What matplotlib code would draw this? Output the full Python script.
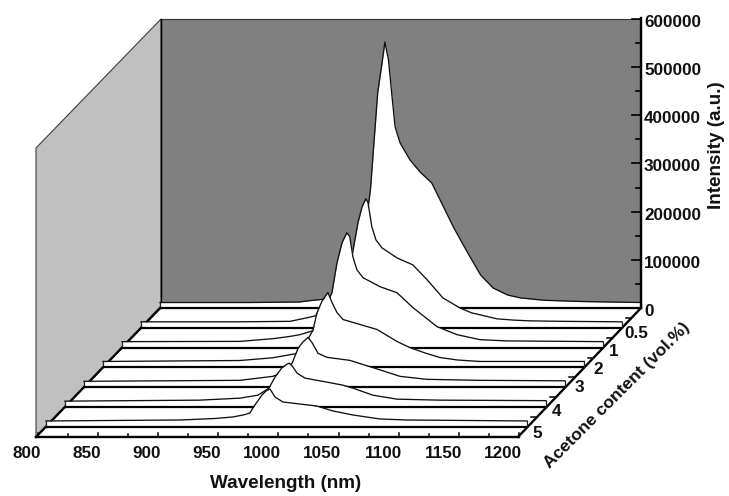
import matplotlib
matplotlib.use('Agg')
import matplotlib.pyplot as plt
from matplotlib.patches import Polygon
from matplotlib.transforms import Affine2D

plt.rcParams['font.family'] = ['Liberation Sans', 'DejaVu Sans']
plt.rcParams['font.weight'] = 'bold'

acetone_labels = ['0', '0.5', '1', '2', '3', '4', '5']

wl_0 = [800, 875, 916, 922, 935, 944, 950, 960, 970, 975, 981, 985, 987, 990, 993, 995.5, 999.7, 1008, 1016.4, 1026,
        1033, 1044, 1056, 1066.6, 1077, 1089, 1100, 1120, 1150, 1200]
int_0 = [11400, 11400, 12500, 14500, 18000, 24000, 33200, 68500, 151500, 245000, 446000, 515000, 552000, 515000,
         438000, 376000, 342500, 307000, 282000, 259500, 224000, 168000, 114000, 68500, 41500, 27000, 20800, 16000,
         13500, 11400]

wl_05 = [800, 882, 924, 938, 945, 961, 976, 980.4, 983.8, 987, 988.8, 992, 995.4, 1000.4, 1013, 1026, 1038, 1051,
         1065, 1075, 1082, 1096, 1110, 1123, 1150, 1200]
int_05 = [12500, 12500, 13500, 20800, 25000, 68500, 155700, 218000, 251000, 268000, 259500, 209500, 182500, 166000,
          145000, 130800, 99600, 62300, 41500, 31000, 27000, 18700, 16000, 14500, 13500, 12500]

wl_1 = [800, 898, 925.6, 940, 948, 959, 974.6, 978.8, 983, 987, 989.4, 992, 995.3, 1000.4, 1014.5, 1028.7, 1042, 1062,
        1078.6, 1097.7, 1120, 1200]
int_1 = [12500, 13000, 18700, 23500, 27000, 35300, 114000, 176500, 218000, 238700, 230400, 189000, 162000, 145300,
         126600, 114000, 83000, 43600, 27000, 16600, 14000, 12500]

wl_2 = [800, 914, 941, 961, 968, 974.6, 978, 982, 987, 990.4, 994.6, 999.6, 1027.9, 1044.5, 1055, 1068, 1080, 1095,
        1113.5, 1200]
int_2 = [12500, 14500, 20100, 29000, 47700, 77400, 114000, 137000, 155700, 135000, 114000, 99600, 78900, 54000,
         41500, 30000, 20800, 15500, 12500, 12500]

wl_3 = [800, 929.7, 957, 966, 973, 978, 982, 986.3, 989.6, 994.6, 1002, 1021, 1039.5, 1062.8, 1085, 1129, 1200]
int_3 = [12500, 14500, 22800, 31000, 49800, 81000, 94000, 103800, 93000, 70600, 62300, 56000, 41500, 22800, 16600,
         14500, 13500]

wl_4 = [800, 912, 945.5, 960.5, 969.6, 974.6, 980.5, 983.8, 986.3, 988.8, 993, 999.6, 1018, 1031, 1039.5, 1056, 1076,
        1112, 1200]
int_4 = [12500, 14500, 18700, 24900, 39400, 62300, 82000, 88000, 91300, 86000, 70600, 60200, 51900, 45700, 39400,
         24900, 16600, 14500, 13500]

wl_5 = [800, 911.4, 940, 955.5, 965, 969.6, 972, 979.6, 983, 986.3, 990.4, 997, 1011, 1025, 1038.7, 1055.3, 1077.7,
        1100, 1200]
int_5 = [12500, 14500, 17500, 20800, 25500, 29000, 39400, 66400, 74700, 78900, 62300, 51900, 47700, 43600, 33200,
         24900, 16600, 14500, 12500]

wavelengths = [wl_0, wl_05, wl_1, wl_2, wl_3, wl_4, wl_5]
intensities = [int_0, int_05, int_1, int_2, int_3, int_4, int_5]

wl_ticks = [800, 850, 900, 950, 1000, 1050, 1100, 1150, 1200]
int_ticks = [0, 100000, 200000, 300000, 400000, 500000, 600000]

# everything is placed in pixels of the 729x496 picture
fig = plt.figure(figsize=(7.29, 4.96), dpi=100)
ax = fig.add_axes([0, 0, 1, 1])
ax.set_xlim(0, 729)
ax.set_ylim(496, 0)
ax.axis('off')

BACK_X, BACK_Y = 160, 308
STEP_X, STEP_Y = -19, 19.83
PX_NM = 1.2025
PX_INT = 48.17 / 100000
TOP_Y = BACK_Y - 600000 * PX_INT
WIDTH = 400 * PX_NM


def series_trans(i):
    x0 = BACK_X + STEP_X * i
    y0 = BACK_Y + STEP_Y * i
    return Affine2D().translate(-800, 0).scale(PX_NM, -PX_INT).translate(x0, y0) + ax.transData


# walls
ax.add_patch(Polygon([(36, TOP_Y + 129), (161, TOP_Y), (161, BACK_Y), (36, 437)], fc='#c0c0c0', ec='#404040', lw=0.8))
ax.add_patch(Polygon([(161, TOP_Y), (BACK_X + WIDTH, TOP_Y), (BACK_X + WIDTH, BACK_Y), (161, BACK_Y)],
                     fc='#808080', ec='#303030', lw=0.8))
ax.plot([161, 161], [TOP_Y, BACK_Y], color='black', lw=1.0)

# floor outline
ax.plot([36, BACK_X], [437, BACK_Y], color='black', lw=1.7, solid_capstyle='projecting')
ax.plot([518, BACK_X + WIDTH], [437, BACK_Y], color='black', lw=1.7)

# spectra, from the back to the front
for i in range(len(wavelengths)):
    trans = series_trans(i)
    wl = wavelengths[i]
    inten = intensities[i]
    z = 3 + i
    ax.fill_between(wl, 0, inten, color='white', lw=0, transform=trans, zorder=z)
    ax.plot(wl, inten, color='#101010', lw=0.95, transform=trans, zorder=z)
    ax.plot([800, 800], [0, inten[0]], color='#202020', lw=0.9, transform=trans, zorder=z)
    ax.plot([1200, 1200], [0, inten[-1]], color='#202020', lw=0.9, transform=trans, zorder=z)
    ax.plot([800, 1200], [0, 0], color='black', lw=1.6, solid_capstyle='butt', transform=trans, zorder=z)

ax.plot([36, 519], [437, 437], color='black', lw=1.7, zorder=12)

# right intensity axis
right_x = BACK_X + WIDTH
ax.plot([right_x, right_x], [TOP_Y - 1, BACK_Y], color='black', lw=1.7, zorder=12)
for v in int_ticks:
    y = BACK_Y - v * PX_INT
    if v > 0:
        ax.plot([right_x - 9, right_x], [y, y], color='black', lw=1.2)
        ax.text(right_x + 3, y + 3.5, str(v), fontsize=12.3, ha='left', va='center', color='#111111')
    if v < 600000:
        ym = BACK_Y - (v + 50000) * PX_INT
        ax.plot([right_x - 5, right_x], [ym, ym], color='black', lw=1.2)

# wavelength ticks
for k, w in enumerate(wl_ticks):
    x = 38 + (w - 800) * PX_NM
    ax.plot([x, x], [437, 433], color='black', lw=1.1, zorder=12)
    ax.text(x + 3, 453, str(w), fontsize=12.3, ha='right', va='center', color='#111111')
    if w < 1200:
        ax.plot([x + 30, x + 30], [437, 434], color='black', lw=1.1, zorder=12)

# acetone ticks and labels
label_x = [649, 636, 614, 598, 579, 557, 537]
label_y = [311, 333, 352, 370, 387, 411, 434]
for i, lab in enumerate(acetone_labels):
    ax.text(label_x[i], label_y[i], lab, fontsize=12.3, ha='center', va='center', color='#111111')
    if i < 6:
        xt = BACK_X + WIDTH + STEP_X * (i + 0.5)
        yt = BACK_Y + STEP_Y * (i + 0.5)
        ax.plot([xt - 5, xt], [yt, yt], color='black', lw=1.1, zorder=12)

ax.text(286, 483, 'Wavelength (nm)', fontsize=13.6, ha='center', va='center', color='#111111')
ax.text(717, 145, 'Intensity (a.u.)', fontsize=13.6, rotation=90, ha='center', va='center', color='#111111')
ax.text(617, 395, 'Acetone content (vol.%)', fontsize=12.6, rotation=45, rotation_mode='anchor',
        ha='center', va='center', color='#111111')

plt.savefig('out.png', dpi=100)
